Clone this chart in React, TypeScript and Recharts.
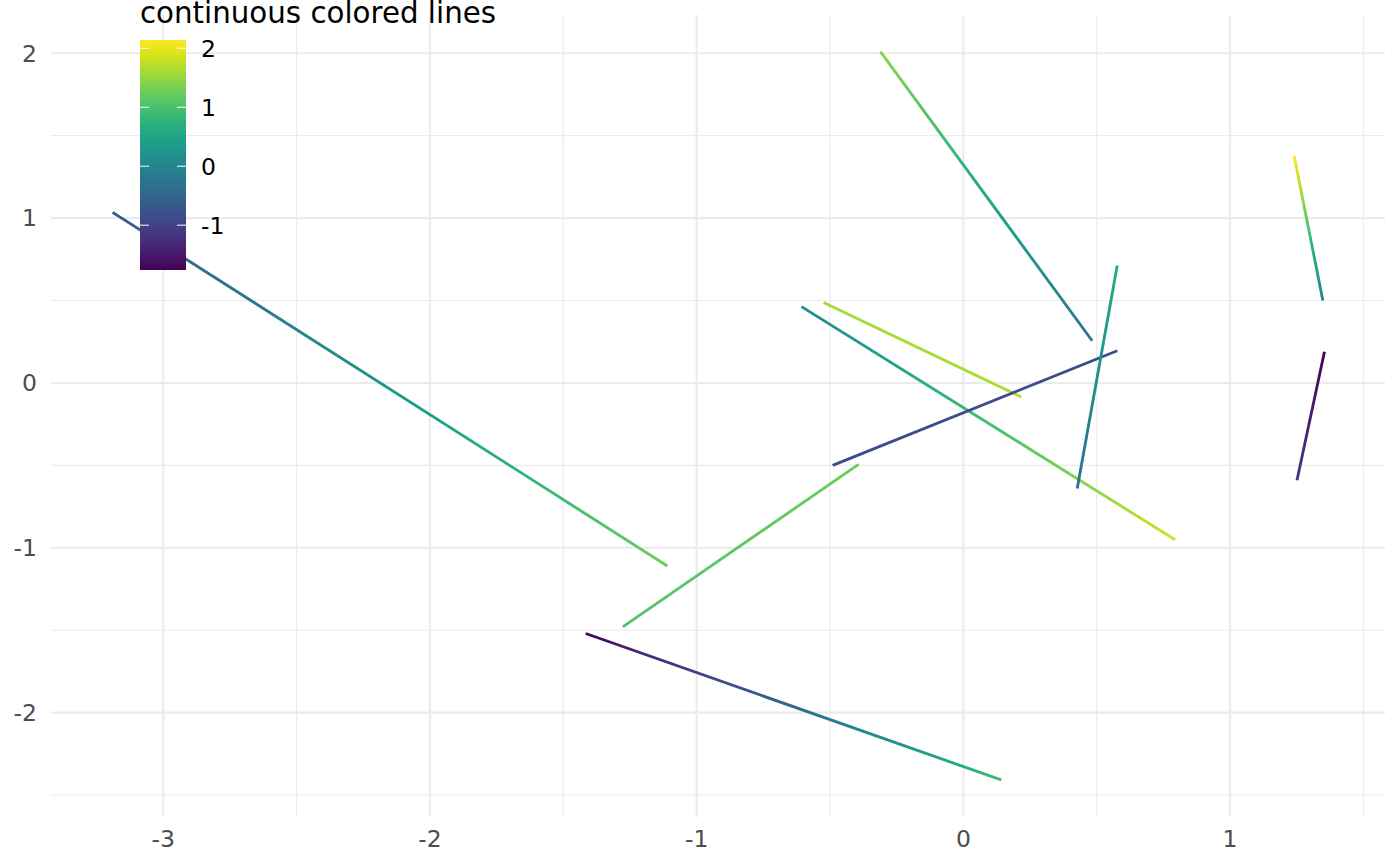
import React from "react";
import { LineChart, Line, XAxis, YAxis, CartesianGrid } from "recharts";

// Segment endpoints (data units) and colour values at each end
const X_START = [-3.19, -1.416, -1.277, -0.607, -0.524, -0.49, -0.311, 0.427, 1.24, 1.251];
const Y_START = [1.035, -1.52, -1.48, 0.463, 0.488, -0.5, 2.01, -0.64, 1.378, -0.59];
const X_END = [-1.11, 0.142, -0.393, 0.794, 0.217, 0.577, 0.483, 0.577, 1.348, 1.354];
const Y_END = [-1.11, -2.408, -0.494, -0.951, -0.085, 0.195, 0.256, 0.713, 0.5, 0.189];
const C_START = [-0.71, -1.72, 1.08, 0.07, 1.58, -0.9, 1.44, -0.36, 2.14, -1.15];
const C_END = [1.28, 0.89, 1.24, 1.87, 1.66, -0.85, -0.28, 0.65, -0.05, -1.76];

const X_TICKS = [-3, -2, -1, 0, 1];
const Y_TICKS = [-2, -1, 0, 1, 2];
const X_MINOR = [-2.5, -1.5, -0.5, 0.5, 1.5];
const Y_MINOR = [-2.5, -1.5, -0.5, 0.5, 1.5];
const X_DOMAIN: [number, number] = [-3.421, 1.581];
const Y_DOMAIN: [number, number] = [-2.633, 2.232];

const COLOR_LIMITS: [number, number] = [-1.76, 2.14];
const LEGEND_TICKS = [-1, 0, 1, 2];
const LEGEND_TITLE = "continuous colored lines";

const VIRIDIS = [
  "#440154", "#48186a", "#472d7b", "#424086", "#3b528b", "#33638d", "#2c728e", "#26828e",
  "#21918c", "#1fa088", "#28ae80", "#3fbc73", "#5ec962", "#84d44b", "#addc30", "#d8e219", "#fde725",
];

function hexToRgb(h: string) {
  return [parseInt(h.slice(1, 3), 16), parseInt(h.slice(3, 5), 16), parseInt(h.slice(5, 7), 16)];
}
function viridis(t: number) {
  const tt = Math.max(0, Math.min(1, t)) * (VIRIDIS.length - 1);
  const i = Math.min(VIRIDIS.length - 2, Math.floor(tt));
  const f = tt - i;
  const a = hexToRgb(VIRIDIS[i]);
  const b = hexToRgb(VIRIDIS[i + 1]);
  const c = a.map((v, k) => Math.round(v + (b[k] - v) * f));
  return `rgb(${c[0]},${c[1]},${c[2]})`;
}
function colorOf(v: number) {
  return viridis((v - COLOR_LIMITS[0]) / (COLOR_LIMITS[1] - COLOR_LIMITS[0]));
}

const FONT = "DejaVu Sans";
const STEPS = 16;

const segments = X_START.map((_, i) => ({
  id: `seg${i}`,
  data: [
    { x: X_START[i], y: Y_START[i] },
    { x: X_END[i], y: Y_END[i] },
  ],
  gx1: X_START[i] <= X_END[i] ? 0 : 1,
  gy1: Y_START[i] >= Y_END[i] ? 0 : 1,
  stops: Array.from({ length: STEPS + 1 }, (_, k) => ({
    offset: k / STEPS,
    color: colorOf(C_START[i] + ((C_END[i] - C_START[i]) * k) / STEPS),
  })),
}));

function Legend() {
  const barX = 140, barY = 40, barW = 46, barH = 230;
  const toY = (v: number) =>
    barY + barH - ((v - COLOR_LIMITS[0]) / (COLOR_LIMITS[1] - COLOR_LIMITS[0])) * barH;
  return (
    <svg
      width={640}
      height={300}
      style={{ position: "absolute", left: 0, top: 0, pointerEvents: "none" }}
    >
      <defs>
        <linearGradient id="cbar" x1="0" y1="1" x2="0" y2="0">
          {VIRIDIS.map((c, i) => (
            <stop key={i} offset={i / (VIRIDIS.length - 1)} stopColor={c} />
          ))}
        </linearGradient>
      </defs>
      <text x={barX} y={22.5} fontFamily={FONT} fontSize={29.3} fill="#000">
        {LEGEND_TITLE}
      </text>
      <rect x={barX} y={barY} width={barW} height={barH} fill="url(#cbar)" />
      {LEGEND_TICKS.map((v) => (
        <g key={v}>
          <line x1={barX} x2={barX + 9} y1={toY(v)} y2={toY(v)} stroke="#fff" strokeWidth={1} />
          <line x1={barX + barW - 9} x2={barX + barW} y1={toY(v)} y2={toY(v)} stroke="#fff" strokeWidth={1} />
          <text x={201} y={toY(v)} dy="0.36em" fontFamily={FONT} fontSize={23.5} fill="#000">
            {v}
          </text>
        </g>
      ))}
    </svg>
  );
}

export default function App() {
  const tickStyle = { fontFamily: FONT, fontSize: 23.5, fill: "#4d4d4d" };
  return (
    <div style={{ position: "absolute", left: 0, top: 0, width: 1400, height: 866, background: "#fff" }}>
      <LineChart width={1400} height={866} margin={{ top: 15, right: 15, left: 0, bottom: 0 }}>
        <defs>
          {segments.map((s) => (
            <linearGradient
              key={s.id}
              id={`g_${s.id}`}
              x1={s.gx1}
              y1={s.gy1}
              x2={1 - s.gx1}
              y2={1 - s.gy1}
            >
              {s.stops.map((st, k) => (
                <stop key={k} offset={st.offset} stopColor={st.color} />
              ))}
            </linearGradient>
          ))}
        </defs>
        <XAxis
          dataKey="x"
          type="number"
          domain={X_DOMAIN}
          ticks={X_TICKS}
          allowDataOverflow
          axisLine={false}
          tickLine={false}
          tickSize={0}
          tickMargin={13}
          height={49}
          tick={tickStyle}
          interval={0}
        />
        <YAxis
          type="number"
          domain={Y_DOMAIN}
          ticks={Y_TICKS}
          allowDataOverflow
          axisLine={false}
          tickLine={false}
          tickSize={0}
          tickMargin={14}
          width={51}
          tick={tickStyle}
          interval={0}
        />
        <XAxis
          xAxisId="minor"
          dataKey="x"
          type="number"
          domain={X_DOMAIN}
          ticks={X_MINOR}
          allowDataOverflow
          hide
        />
        <YAxis
          yAxisId="minor"
          type="number"
          domain={Y_DOMAIN}
          ticks={Y_MINOR}
          allowDataOverflow
          hide
        />
        <CartesianGrid xAxisId="minor" yAxisId="minor" stroke="#ebebeb" strokeWidth={1.1} syncWithTicks />
        <CartesianGrid stroke="#ebebeb" strokeWidth={2.1} syncWithTicks />
        {segments.map((s) => (
          <Line
            key={s.id}
            data={s.data}
            dataKey="y"
            type="linear"
            stroke={`url(#g_${s.id})`}
            strokeWidth={2.85}
            strokeLinecap="butt"
            dot={false}
            activeDot={false}
            isAnimationActive={false}
          />
        ))}
      </LineChart>
      <Legend />
    </div>
  );
}
